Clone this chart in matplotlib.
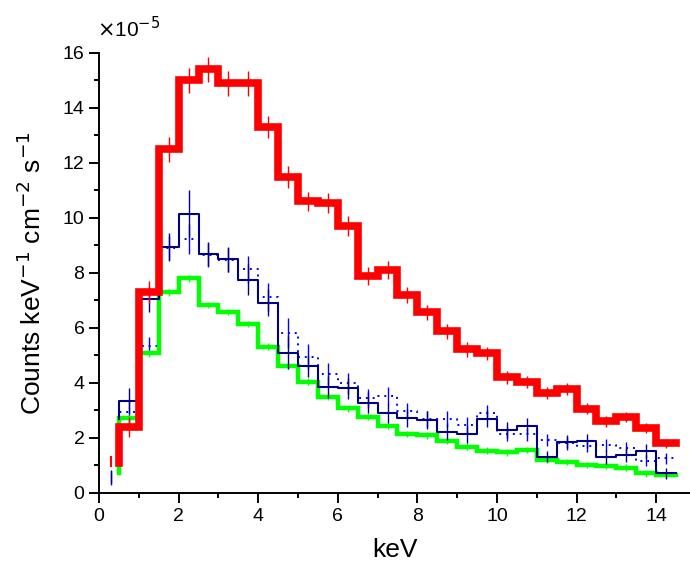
import numpy as np
import matplotlib
matplotlib.use("Agg")
from matplotlib import pyplot as plt

plt.rcParams['font.family'] = ['Liberation Sans', 'DejaVu Sans']

# energy bin edges (keV), 0.5 keV wide
edges = np.arange(0.5, 14.51, 0.5)
centers = (edges[:-1] + edges[1:]) / 2

# counts keV^-1 cm^-2 s^-1 in units of 1e-5
red = [2.4, 7.3, 12.5, 15.0, 15.4, 14.9, 14.9, 13.3, 11.5, 10.6, 10.55, 9.7, 7.9, 8.1,
       7.2, 6.57, 5.88, 5.22, 5.08, 4.2, 4.05, 3.65, 3.78, 3.07, 2.6, 2.77, 2.37, 1.8]
red_err = [0.35, 0.4, 0.45, 0.45, 0.45, 0.45, 0.45, 0.4, 0.4, 0.36, 0.36, 0.36, 0.33, 0.33,
           0.3, 0.28, 0.28, 0.26, 0.24, 0.24, 0.22, 0.22, 0.22, 0.2, 0.2, 0.19, 0.19, 0.18]
green = [2.73, 5.08, 7.3, 7.8, 6.84, 6.58, 6.15, 5.32, 4.63, 4.05, 3.5, 3.08, 2.78, 2.44,
         2.15, 2.1, 1.89, 1.68, 1.54, 1.48, 1.56, 1.2, 1.12, 1.02, 0.98, 0.92, 0.71, 0.65]
navy = [3.36, 7.04, 8.96, 10.15, 8.69, 8.5, 7.76, 6.92, 5.1, 4.62, 3.87, 3.8, 3.28, 2.9,
        2.74, 2.65, 2.23, 2.13, 2.7, 2.29, 2.45, 1.32, 1.87, 1.9, 1.32, 1.38, 1.53, 0.72]
navy_err = [0.45, 0.45, 0.5, 0.85, 0.45, 0.45, 0.55, 0.5, 0.6, 0.4, 0.4, 0.38, 0.38, 0.35,
            0.33, 0.33, 0.3, 0.3, 0.3, 0.28, 0.28, 0.2, 0.25, 0.25, 0.25, 0.25, 0.25, 0.2]
blue = [2.96, 5.36, 8.9, 9.24, 8.65, 8.47, 8.13, 7.12, 5.83, 4.96, 4.32, 3.99, 3.44, 3.53,
        2.99, 2.69, 2.69, 2.47, 2.92, 2.15, 2.13, 1.93, 1.8, 1.72, 1.74, 1.65, 1.17, 1.26]
blue_err = [0.45, 0.3, 0.45, 0.55, 0.45, 0.45, 0.5, 0.5, 0.55, 0.45, 0.4, 0.38, 0.35, 0.33,
            0.3, 0.3, 0.3, 0.28, 0.28, 0.25, 0.25, 0.22, 0.22, 0.22, 0.22, 0.22, 0.2, 0.2]

# start values of the first vertical step at 0.5 keV
red_start, green_start, navy_start, blue_start = 1.1, 0.73, 2.7, 2.2

# lowest-energy point (0.3 keV)
low_x = 0.3
low_red, low_red_err = 1.15, 0.2
low_navy, low_navy_err = 0.6, 0.25
low_blue, low_blue_err = 0.55, 0.25

RED = '#ff0000'
GREEN = '#00ff00'
NAVY = '#000080'
BLUE = '#0000ff'


def step_xy(start, vals):
    x = np.concatenate([[edges[0]], edges])
    y = np.concatenate([[start], vals, [vals[-1]]])
    return x, y


fig = plt.figure(figsize=(6.9, 5.66), dpi=100)
ax = fig.add_axes([0.1435, 0.129, 0.8565, 0.7774])

x, y = step_xy(blue_start, blue)
ax.step(x, y, where='post', color=BLUE, lw=1.4, ls=(0, (1, 2.5)))
ax.errorbar(centers, blue, yerr=blue_err, fmt='none', ecolor=BLUE, elinewidth=1.0,
            ls=':')
ax.errorbar([low_x], [low_blue], yerr=[low_blue_err], fmt='none', ecolor=BLUE,
            elinewidth=1.0, ls=':')

x, y = step_xy(green_start, green)
ax.step(x, y, where='post', color=GREEN, lw=3.2, solid_joinstyle='miter')
ax.errorbar(centers, green, yerr=0.12, fmt='none', ecolor=GREEN, elinewidth=1.0)

x, y = step_xy(navy_start, navy)
ax.step(x, y, where='post', color=NAVY, lw=1.5)
ax.errorbar(centers, navy, yerr=navy_err, fmt='none', ecolor=NAVY, elinewidth=1.0)
ax.errorbar([low_x], [low_navy], yerr=[low_navy_err], fmt='none', ecolor=NAVY,
            elinewidth=1.0)

x, y = step_xy(red_start, red)
ax.step(x, y, where='post', color=RED, lw=5.5, solid_joinstyle='miter')
ax.errorbar(centers, red, yerr=red_err, fmt='none', ecolor=RED, elinewidth=1.0)
ax.errorbar([low_x], [low_red], yerr=[low_red_err], fmt='none', ecolor=RED,
            elinewidth=1.5)

ax.set_xlim(0, 14.85)
ax.set_ylim(0, 16)
ax.spines['top'].set_visible(False)
ax.spines['right'].set_visible(False)
ax.spines['left'].set_linewidth(1.4)
ax.spines['bottom'].set_linewidth(1.4)
ax.set_xticks(np.arange(0, 15, 2))
ax.set_xticks(np.arange(1, 15, 2), minor=True)
ax.set_yticks(np.arange(0, 17, 2))
ax.set_yticks(np.arange(1, 16, 2), minor=True)
ax.tick_params(which='major', length=7, width=1.4, labelsize=14, direction='out')
ax.tick_params(which='minor', length=3.5, width=1.4, direction='out')

ax.set_xlabel('keV', fontsize=19, labelpad=10)
ax.set_ylabel(r'Counts keV$^{-1}$ cm$^{-2}$ s$^{-1}$', fontsize=19, labelpad=12)
fig.text(0.14, 0.95, r'$\times$10$^{-5}$', fontsize=15, ha='left', va='center')

fig.savefig('out.png', dpi=100)
